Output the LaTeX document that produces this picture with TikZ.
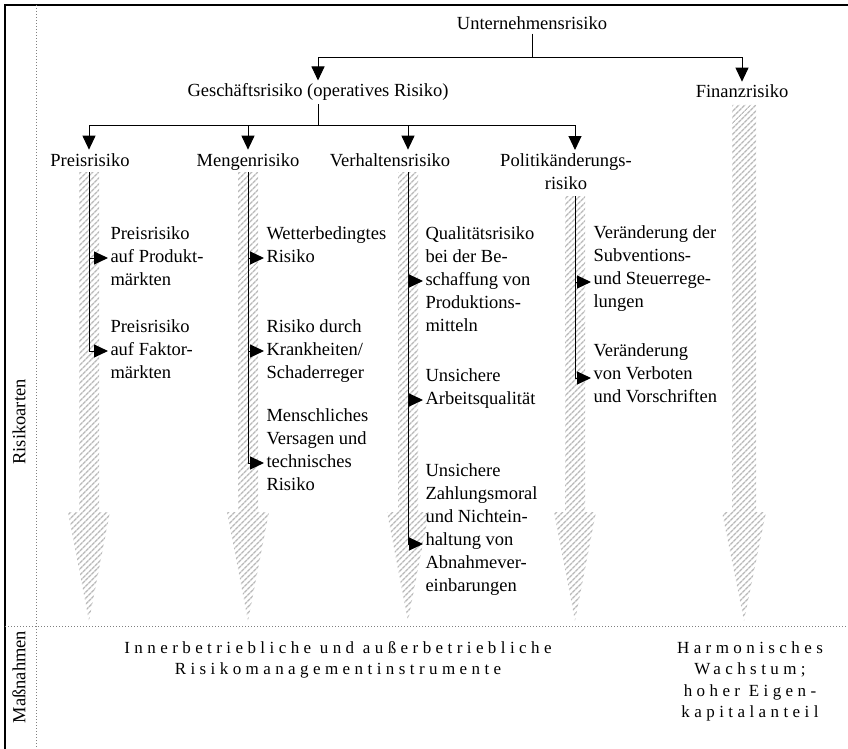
\documentclass[tikz,border=0pt]{standalone}
\usepackage{fontspec}
\setmainfont{Liberation Serif}
\newfontfamily\spacedfont[LetterSpace=26]{Liberation Serif}
\usetikzlibrary{arrows.meta,patterns.meta}

\begin{document}
\begin{tikzpicture}[x=1pt,y=-1pt,line width=1pt,
  font=\fontsize{18.5}{23}\selectfont,
  >={Triangle[length=14pt,width=13pt]},
  lbl/.style={inner sep=3pt,anchor=base},
  item/.style={inner sep=0pt,anchor=north west,align=left},
  foot/.style={inner sep=0pt,anchor=north,align=center,font=\fontsize{17}{21.5}\selectfont\spacedfont},
  hatch/.style={pattern={Lines[angle=45,distance=4pt,line width=1.4pt]},pattern color=gray!55}]
\useasboundingbox (0,0) rectangle (848,749);

% frame and separators
\draw[line width=2pt] (848,5) -- (5,5) -- (5,749);
\draw[dotted,gray] (36,5) -- (36,749);
\draw[dotted,gray] (5,626) -- (848,626);

% hatched column arrows
\foreach \x/\t/\w/\h in {89/172/10/21, 248/172/10/21, 408/172/10/21, 575/196/10/21, 744/105/12/22}
  \fill[hatch] (\x-\w,\t) -- (\x+\w,\t) -- (\x+\w,512) -- (\x+\h,512) -- (\x,621)
    -- (\x-\h,512) -- (\x-\w,512) -- cycle;

\coordinate (cP) at (89,172);
\coordinate (cM) at (248,172);
\coordinate (cV) at (408,172);
\coordinate (cPo) at (575,196);

% tree
\node[lbl] (unt) at (532,30) {Unternehmensrisiko};
\node[lbl] (ges) at (318,97) {Geschäftsrisiko (operatives Risiko)};
\node[lbl] (fin) at (742,98) {Finanzrisiko};
\node[lbl] (preis) at (90,166) {Preisrisiko};
\node[lbl] (menge) at (248,166) {Mengenrisiko};
\node[lbl] (verh) at (390,166) {Verhaltensrisiko};
\node[inner sep=3pt,anchor=north,align=center] (polit) at (566,150) {Politikänderungs-\\risiko};

\coordinate (uJ) at (532,58);
\coordinate (gJ) at (318,126);
\draw (unt.south) -- (uJ);
\draw[->] (uJ) -| (ges.north);
\draw[->] (uJ) -| (fin.north);
\draw (ges.south) -- (gJ);
\foreach \n/\c in {preis/cP,menge/cM,verh/cV,polit/cPo}
  \draw[->] (gJ) -| (\c |- \n.north);

% single risks
\node[item] (p1) at (110,226) {Preisrisiko\\auf Produkt-\\märkten};
\node[item] (p2) at (110,319) {Preisrisiko\\auf Faktor-\\märkten};
\node[item] (m1) at (266,226) {Wetterbedingtes\\Risiko};
\node[item] (m2) at (266,319) {Risiko durch\\Krankheiten/\\Schaderreger};
\node[item] (m3) at (266,408) {Menschliches\\Versagen und\\technisches\\Risiko};
\node[item] (v1) at (425,226) {Qualitätsrisiko\\bei der Be-\\schaffung von\\Produktions-\\mitteln};
\node[item] (v2) at (425,368) {Unsichere\\Arbeitsqualität};
\node[item] (v3) at (425,463) {Unsichere\\Zahlungsmoral\\und Nichtein-\\haltung von\\Abnahmever-\\einbarungen};
\node[item] (o1) at (593,225) {Veränderung der\\Subventions-\\und Steuerrege-\\lungen};
\node[item] (o2) at (593,343) {Veränderung\\von Verboten\\und Vorschriften};

\foreach \c/\n/\s in {cP/p1/32, cP/p2/32, cM/m1/32, cM/m2/32, cM/m3/55,
    cV/v1/55, cV/v2/32, cV/v3/81, cPo/o1/57, cPo/o2/35}
  \draw[->] (\c) |- ([xshift=-2pt,yshift=-\s pt]\n.north west);

% side labels
\node[rotate=90] (arten) at (19,422) {Risikoarten};
\node[rotate=90] (mass) at (19,677) {Maßnahmen};

% measures
\node[foot] (inst) at (338,641) {Innerbetriebliche und außerbetriebliche\\Risikomanagementinstrumente};
\node[foot] (wachs) at (750,641) {Harmonisches\\Wachstum;\\hoher Eigen-\\kapitalanteil};
\end{tikzpicture}
\end{document}
